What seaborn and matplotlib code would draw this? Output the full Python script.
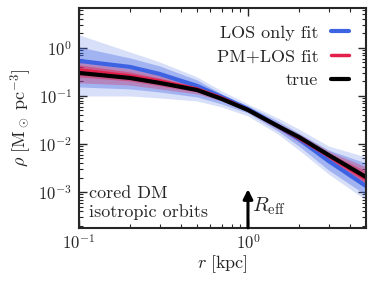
import matplotlib
matplotlib.use("Agg")
import matplotlib.pyplot as plt
import seaborn as sns
import numpy as np

# radius grid [kpc]
r = [0.1, 0.2, 0.3, 0.5, 0.7, 1.0, 1.5, 2.0, 3.0, 5.0]

# true density profile
rho_true = [0.301, 0.237, 0.187, 0.133, 0.0866, 0.0511, 0.0237, 0.0140, 0.0059, 0.00205]

# LOS only fit: median, 68% and 95% bands
los_med = [0.536, 0.402, 0.287, 0.162, 0.0953, 0.0536, 0.0237, 0.0127, 0.00443, 0.00133]
los_68_hi = [1.05, 0.619, 0.422, 0.215, 0.110, 0.0619, 0.0302, 0.0169, 0.0075, 0.0040]
los_68_lo = [0.154, 0.140, 0.121, 0.0953, 0.0681, 0.0442, 0.0187, 0.00909, 0.00287, 0.000866]
los_95_hi = [1.87, 0.826, 0.511, 0.249, 0.127, 0.0681, 0.0348, 0.0205, 0.00909, 0.00536]
los_95_lo = [0.100, 0.100, 0.0908, 0.0787, 0.0590, 0.0383, 0.0162, 0.0075, 0.00237, 0.00068]

# PM+LOS fit: median, 68% and 95% bands
pm_med = [0.348, 0.261, 0.205, 0.140, 0.0908, 0.0511, 0.0237, 0.0133, 0.00562, 0.00187]
pm_68_hi = [0.442, 0.316, 0.237, 0.154, 0.0953, 0.0536, 0.0261, 0.0147, 0.0065, 0.00274]
pm_68_lo = [0.249, 0.205, 0.162, 0.121, 0.0825, 0.0487, 0.0215, 0.0121, 0.00487, 0.00154]
pm_95_hi = [0.511, 0.365, 0.274, 0.169, 0.100, 0.0562, 0.0274, 0.0162, 0.00715, 0.00332]
pm_95_lo = [0.187, 0.169, 0.140, 0.110, 0.0787, 0.0464, 0.0205, 0.0110, 0.00443, 0.00133]

r_eff = 1.0

blue = "#3d63e3"
red = "#e3204c"

sns.set_style("ticks")
plt.rcParams["font.family"] = "serif"
plt.rcParams["font.serif"] = ["cmr10", "DejaVu Serif"]
plt.rcParams["mathtext.fontset"] = "cm"
plt.rcParams["axes.formatter.use_mathtext"] = True
plt.rcParams["axes.unicode_minus"] = False
plt.rcParams["font.size"] = 12

fig = plt.figure(figsize=(3.74, 2.81), dpi=100)
ax = fig.add_axes([0.211, 0.189, 0.768, 0.783])

# bands
ax.fill_between(r, los_95_lo, los_95_hi, color=blue, alpha=0.2, lw=0)
ax.fill_between(r, los_68_lo, los_68_hi, color=blue, alpha=0.35, lw=0)
sns.lineplot(x=r, y=los_med, ax=ax, color=blue, lw=3, label="LOS only fit")

ax.fill_between(r, pm_95_lo, pm_95_hi, color=red, alpha=0.3, lw=0)
ax.fill_between(r, pm_68_lo, pm_68_hi, color=red, alpha=0.45, lw=0)
sns.lineplot(x=r, y=pm_med, ax=ax, color=red, lw=2.5, label="PM+LOS fit")

sns.lineplot(x=r, y=rho_true, ax=ax, color="black", lw=3, label="true")

ax.set_xscale("log")
ax.set_yscale("log")
ax.set_xlim(0.1, 5)
ax.set_ylim(1.8e-4, 6.8)

# R_eff arrow
ax.annotate("", xy=(r_eff, 1.15e-3), xytext=(r_eff, 1.8e-4),
            arrowprops=dict(arrowstyle="-|>", lw=2.2, color="black",
                            mutation_scale=14, shrinkA=0, shrinkB=0))
ax.text(r_eff * 1.05, 5.2e-4, r"$R_{\rm eff}$", fontsize=15, va="center", ha="left")

ax.text(0.035, 0.035, "cored DM\nisotropic orbits", transform=ax.transAxes,
        ha="left", va="bottom", fontsize=13, linespacing=1.3)

ax.set_xlabel(r"$r\ [\mathrm{kpc}]$", fontsize=13, labelpad=1)
ax.set_ylabel(r"$\rho\ [\mathrm{M}_\odot\ \mathrm{pc}^{-3}]$", fontsize=13, labelpad=3)

ax.tick_params(which="both", direction="in", top=True, right=True)
ax.tick_params(which="major", length=6, width=1, labelsize=12)
ax.tick_params(which="minor", length=3, width=0.8)
ax.tick_params(axis="x", which="major", pad=4)
ax.tick_params(axis="y", which="major", pad=5)
for s in ax.spines.values():
    s.set_linewidth(1.5)

ax.legend(loc="upper right", frameon=False, markerfirst=False,
          handlelength=1.0, handletextpad=0.7, fontsize=13,
          borderaxespad=0.55, labelspacing=0.45)

fig.savefig("out.png", dpi=100)
